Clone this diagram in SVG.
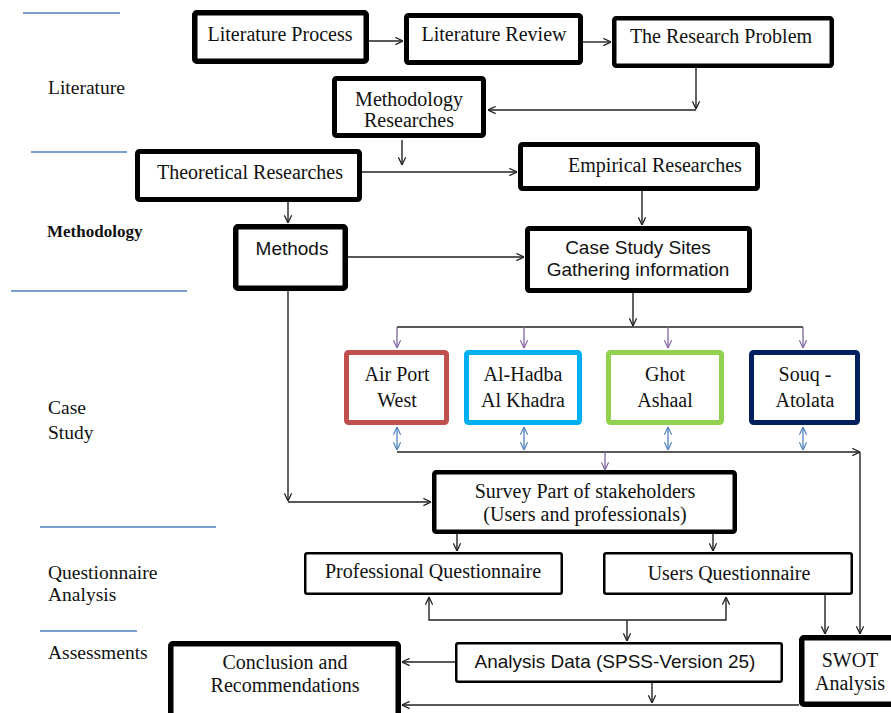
<svg xmlns="http://www.w3.org/2000/svg" width="891" height="713" viewBox="0 0 891 713">
<defs>
<style>
.bg{fill:#fff}
.box{fill:#fff;stroke:#000;rx:2}
.t{font-family:"Liberation Serif","Times New Roman",serif;font-size:20px;fill:#111;text-anchor:middle}
.s{font-family:"Liberation Sans",Arial,sans-serif;font-size:19px;fill:#111;text-anchor:middle}
.lbl{font-family:"Liberation Serif","Times New Roman",serif;font-size:19.5px;fill:#111}
.sep{stroke:#4f81bd;stroke-width:1.3;fill:none}
.c{fill:none;stroke:#222;stroke-width:1.4}
.cp{fill:none;stroke:#8064a2;stroke-width:1.3}
.cb{fill:none;stroke:#4f81bd;stroke-width:1.3}
</style>
<marker id="a" viewBox="0 0 10 10" refX="9.5" refY="5" markerWidth="9" markerHeight="9" markerUnits="userSpaceOnUse" orient="auto-start-reverse"><path d="M1,1 L9.5,5 L1,9" fill="none" stroke="#222" stroke-width="1.4"/></marker>
<marker id="ap" viewBox="0 0 10 10" refX="9.5" refY="5" markerWidth="9" markerHeight="9" markerUnits="userSpaceOnUse" orient="auto-start-reverse"><path d="M1,1 L9.5,5 L1,9" fill="none" stroke="#8064a2" stroke-width="1.3"/></marker>
<marker id="ab" viewBox="0 0 10 10" refX="9.5" refY="5" markerWidth="9" markerHeight="9" markerUnits="userSpaceOnUse" orient="auto-start-reverse"><path d="M1,1 L9.5,5 L1,9" fill="none" stroke="#4f81bd" stroke-width="1.3"/></marker>
</defs>
<rect class="bg" x="0" y="0" width="891" height="713"/>

<g id="section-labels">
<line class="sep" x1="23" y1="13" x2="120" y2="13"/>
<text class="lbl" x="48" y="94">Literature</text>
<line class="sep" x1="31" y1="152" x2="127" y2="152"/>
<text class="lbl" x="47" y="237" style="font-size:17px;font-weight:bold">Methodology</text>
<line class="sep" x1="11" y1="291" x2="187" y2="291"/>
<text class="lbl" x="48" y="414">Case</text>
<text class="lbl" x="48" y="439">Study</text>
<line class="sep" x1="40" y1="527" x2="216" y2="527"/>
<text class="lbl" x="48" y="579">Questionnaire</text>
<text class="lbl" x="48" y="601">Analysis</text>
<line class="sep" x1="40" y1="631" x2="137" y2="631"/>
<text class="lbl" x="48" y="659">Assessments</text>
</g>

<g id="connectors">
<path class="c" d="M369,41 H403" marker-end="url(#a)"/>
<path class="c" d="M583,42 H611" marker-end="url(#a)"/>
<path class="c" d="M696,68 V109" marker-end="url(#a)"/>
<path class="c" d="M696,110 H488" marker-end="url(#a)"/>
<path class="c" d="M402,140 V165" marker-end="url(#a)"/>
<path class="c" d="M362,172 H517" marker-end="url(#a)"/>
<path class="c" d="M288,202 V223" marker-end="url(#a)"/>
<path class="c" d="M642,191 V225" marker-end="url(#a)"/>
<path class="c" d="M348,257 H524" marker-end="url(#a)"/>
<path class="c" d="M633,293 V326" marker-end="url(#a)"/>
<path class="c" d="M397,327 H803"/>
<path class="cp" d="M397,327 V348" marker-end="url(#ap)"/>
<path class="cp" d="M524,327 V348" marker-end="url(#ap)"/>
<path class="cp" d="M668,327 V348" marker-end="url(#ap)"/>
<path class="cp" d="M803,327 V348" marker-end="url(#ap)"/>
<path class="cb" d="M397,427 V450" marker-start="url(#ab)" marker-end="url(#ab)"/>
<path class="cb" d="M524,427 V450" marker-start="url(#ab)" marker-end="url(#ab)"/>
<path class="cb" d="M668,427 V450" marker-start="url(#ab)" marker-end="url(#ab)"/>
<path class="cb" d="M803,427 V450" marker-start="url(#ab)" marker-end="url(#ab)"/>
<path class="c" d="M397,452 H860" marker-end="url(#a)"/>
<path class="c" d="M860,452 V634" marker-end="url(#a)"/>
<path class="cp" d="M605,452 V470" marker-end="url(#ap)"/>
<path class="c" d="M288,291 V501" marker-end="url(#a)"/>
<path class="c" d="M288,502 H431" marker-end="url(#a)"/>
<path class="c" d="M457,534 V551" marker-end="url(#a)"/>
<path class="c" d="M713,534 V551" marker-end="url(#a)"/>
<path class="c" d="M429,597 V620 H726 V597" marker-start="url(#a)" marker-end="url(#a)"/>
<path class="c" d="M627,620 V641" marker-end="url(#a)"/>
<path class="c" d="M825,595 V634" marker-end="url(#a)"/>
<path class="c" d="M455,662 H402" marker-end="url(#a)"/>
<path class="c" d="M652,683 V703" marker-end="url(#a)"/>
<path class="c" d="M799,705 H402" marker-end="url(#a)"/>
</g>

<g id="literature-process"><rect class="box" x="194.75" y="12.75" width="171.5" height="48.5" stroke-width="5.5"/><text class="t" x="280" y="41">Literature Process</text></g>
<g id="literature-review"><rect class="box" x="406.5" y="15.5" width="174" height="47" stroke-width="5"/><text class="t" x="494" y="41">Literature Review</text></g>
<g id="research-problem"><rect class="box" x="614.25" y="18.25" width="217.5" height="47.5" stroke-width="4.5"/><text class="t" x="721" y="43">The Research Problem</text></g>
<g id="methodology-researches"><rect class="box" x="334.5" y="78.5" width="149" height="57" stroke-width="5"/><text class="t" x="409" y="106">Methodology</text><text class="t" x="409" y="127">Researches</text></g>
<g id="theoretical-researches"><rect class="box" x="137.5" y="151.5" width="222" height="48" stroke-width="5"/><text class="t" x="250" y="179">Theoretical Researches</text></g>
<g id="empirical-researches"><rect class="box" x="520.5" y="144.5" width="237" height="44" stroke-width="5"/><text class="t" x="655" y="172">Empirical Researches</text></g>
<g id="methods"><rect class="box" x="235.75" y="226.75" width="109.5" height="61.5" stroke-width="5.5"/><text class="s" x="292" y="255">Methods</text></g>
<g id="case-study-sites"><rect class="box" x="527.5" y="228.5" width="222" height="62" stroke-width="5"/><text class="s" x="638" y="254">Case Study Sites</text><text class="s" x="638" y="276">Gathering information</text></g>
<g id="air-port-west"><rect class="box" x="346.5" y="352.5" width="100" height="70" stroke-width="5" style="stroke:#c0504d"/><text class="t" x="397" y="381">Air Port</text><text class="t" x="397" y="407">West</text></g>
<g id="al-hadba"><rect class="box" x="466.5" y="352.5" width="113" height="70" stroke-width="5" style="stroke:#00b0f0"/><text class="t" x="523" y="381">Al-Hadba</text><text class="t" x="523" y="407">Al Khadra</text></g>
<g id="ghot-ashaal"><rect class="box" x="608.5" y="352.5" width="113" height="70" stroke-width="5" style="stroke:#92d050"/><text class="t" x="665" y="381">Ghot</text><text class="t" x="665" y="407">Ashaal</text></g>
<g id="souq-atolata"><rect class="box" x="751.5" y="352.5" width="106" height="70" stroke-width="5" style="stroke:#002060"/><text class="t" x="805" y="381">Souq -</text><text class="t" x="805" y="407">Atolata</text></g>
<g id="survey"><rect class="box" x="434.25" y="472.25" width="300.5" height="59.5" stroke-width="4.5"/><text class="t" x="585" y="498">Survey Part of stakeholders</text><text class="t" x="585" y="521">(Users and professionals)</text></g>
<g id="professional-questionnaire"><rect class="box" x="305.25" y="553.25" width="256.5" height="40.5" stroke-width="2.5"/><text class="t" x="433" y="578">Professional Questionnaire</text></g>
<g id="users-questionnaire"><rect class="box" x="604.25" y="553.25" width="247.5" height="40.5" stroke-width="2.5"/><text class="t" x="729" y="580">Users Questionnaire</text></g>
<g id="analysis-data"><rect class="box" x="456.25" y="643.25" width="325.5" height="38.5" stroke-width="2.5"/><text class="s" x="615" y="668">Analysis Data (SPSS-Version 25)</text></g>
<g id="swot"><rect class="box" x="801.75" y="637.75" width="100" height="66.5" stroke-width="5.5"/><text class="t" x="850" y="667">SWOT</text><text class="t" x="850" y="690">Analysis</text></g>
<g id="conclusion"><rect class="box" x="170.75" y="643.75" width="227.5" height="80" stroke-width="5.5"/><text class="t" x="285" y="669">Conclusion and</text><text class="t" x="285" y="692">Recommendations</text></g>
</svg>
